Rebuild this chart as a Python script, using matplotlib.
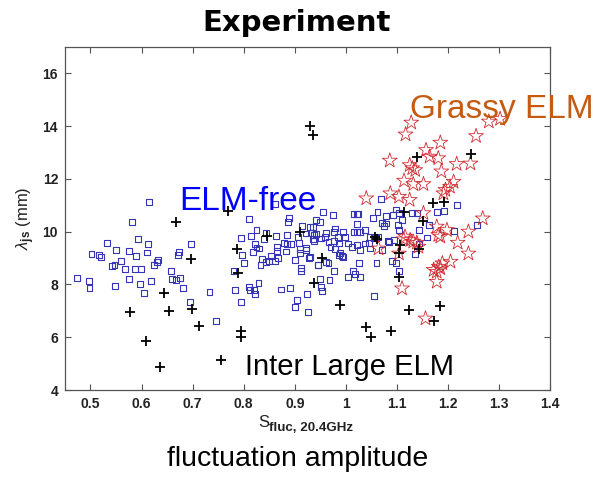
import matplotlib
matplotlib.use("Agg")
import matplotlib.pyplot as plt
import numpy as np

plt.rcParams["font.family"] = ["Liberation Sans", "DejaVu Sans"]
plt.rcParams["mathtext.fontset"] = "custom"
plt.rcParams["mathtext.rm"] = "Liberation Sans"
plt.rcParams["mathtext.bf"] = "Liberation Sans:bold"
plt.rcParams["mathtext.it"] = "Liberation Sans:italic"

# ELM-free discharges (open squares)
free_x = [0.473, 0.497, 0.498, 0.502, 0.517, 0.521, 0.533, 0.542, 0.547, 0.550, 0.548, 0.560,
          0.568, 0.576, 0.576, 0.582, 0.587, 0.589, 0.593, 0.597, 0.599, 0.605, 0.610, 0.612,
          0.615, 0.619, 0.625, 0.630, 0.632, 0.658, 0.659, 0.668, 0.672, 0.674, 0.675, 0.682,
          0.694, 0.696, 0.733, 0.745, 0.780, 0.783, 0.794, 0.795, 0.797, 0.801, 0.811, 0.811,
          0.812, 0.814, 0.818, 0.820, 0.822, 0.822, 0.825, 0.825, 0.829, 0.830, 0.833, 0.836,
          0.839, 0.844, 0.844, 0.849, 0.854, 0.861, 0.863, 0.865, 0.866, 0.868, 0.873, 0.879,
          0.882, 0.884, 0.885, 0.886, 0.888, 0.890, 0.893, 0.901, 0.901, 0.904, 0.906, 0.908,
          0.910, 0.911, 0.912, 0.912, 0.915, 0.922, 0.922, 0.921, 0.924, 0.926, 0.929, 0.934,
          0.936, 0.937, 0.941, 0.936, 0.941, 0.946, 0.862,
          0.955, 0.974, 0.950, 0.979, 0.977, 0.962, 0.994, 0.984, 0.999, 1.015, 1.022, 1.027,
          1.015, 1.021, 1.024, 1.021, 1.038, 1.047, 1.056, 1.060, 1.063, 1.053, 1.062, 1.068,
          1.070, 1.074, 1.079, 1.082, 1.085, 1.079, 1.092, 1.098, 1.104, 1.110, 1.103, 1.104,
          1.094, 1.091, 1.099, 1.104, 1.129, 1.139, 1.143, 1.136, 1.143, 1.159, 1.162, 1.178,
          1.193, 1.218, 1.212, 1.257, 0.930, 0.937, 0.951, 0.960, 0.966, 0.970, 0.976, 0.978,
          0.986, 0.989, 0.994, 1.005, 1.012, 1.022, 1.028, 1.038, 1.045, 1.048, 1.071, 0.927,
          0.946, 0.962, 0.966, 0.976, 0.986, 0.992, 0.950, 0.968, 0.952, 0.954, 1.005, 1.014,
          1.018, 1.028, 1.025, 1.060, 1.056]
free_y = [8.25, 8.14, 7.85, 9.16, 9.10, 9.05, 9.57, 8.71, 8.72, 9.30, 7.95, 8.89,
          8.58, 9.28, 8.19, 10.36, 8.58, 9.08, 9.72, 8.02, 8.57, 7.69, 9.21, 9.54,
          11.12, 8.14, 8.72, 8.86, 8.91, 8.51, 8.22, 8.17, 9.11, 9.23, 8.24, 7.86,
          7.35, 9.54, 7.72, 6.63, 8.51, 7.80, 9.77, 7.35, 9.10, 8.82, 10.47, 7.92,
          7.79, 9.83, 9.22, 7.79, 7.65, 9.54, 10.06, 9.40, 8.06, 9.36, 8.72, 8.95,
          9.73, 8.86, 9.96, 8.89, 9.09, 8.89, 9.84, 9.27, 9.42, 9.01, 7.81, 9.58,
          9.25, 9.54, 9.87, 10.37, 10.50, 7.87, 9.53, 8.92, 7.13, 7.42, 9.81, 9.58,
          9.33, 9.20, 8.52, 8.61, 10.21, 9.39, 9.30, 9.93, 7.64, 6.95, 9.05, 9.96,
          9.71, 9.66, 9.90, 10.16, 10.44, 8.72, 11.05,
          10.75, 10.63, 10.38, 10.12, 10.00, 9.96, 10.00, 9.81, 9.81, 10.00, 9.97, 9.97,
          10.67, 10.67, 10.67, 10.29, 10.06, 9.81, 9.77, 9.75, 9.81, 10.50, 10.75, 11.22,
          10.34, 10.21, 10.31, 9.66, 9.62, 10.59, 10.63, 10.84, 10.69, 10.44, 10.25, 10.06,
          9.68, 8.89, 8.82, 8.52, 10.69, 10.69, 10.06, 9.17, 9.55, 9.78, 10.25, 10.75,
          10.79, 11.00, 10.03, 10.25, 10.19, 9.87, 9.74, 9.81, 9.62, 9.43, 9.66, 9.33,
          9.55, 9.20, 9.05, 9.55, 9.43, 9.49, 9.30, 9.55, 9.58, 9.36, 9.30, 8.99,
          8.73, 8.86, 8.80, 8.52, 9.11, 9.08, 8.19, 8.17, 7.89, 7.76, 8.27, 8.51,
          8.39, 8.27, 8.82, 8.82, 7.57]

# Inter large-ELM periods (plus markers)
inter_x = [0.769, 0.668, 0.696, 0.643, 0.578, 0.653, 0.698, 0.713, 0.609, 0.637, 0.756, 0.786,
           0.788, 0.795, 0.795, 0.846, 0.911, 0.938, 0.929, 0.936, 1.113, 1.151, 1.058, 1.062,
           1.107, 1.105, 1.144, 0.953, 1.105, 0.988, 1.040, 1.049, 1.088, 1.123, 1.184, 1.173,
           1.140, 1.245, 1.170, 1.193]
inter_y = [10.78, 10.38, 8.96, 7.67, 6.95, 6.99, 7.08, 6.42, 5.87, 4.87, 5.12, 9.33,
           8.43, 6.25, 6.02, 9.84, 9.97, 8.06, 14.00, 13.65, 10.75, 10.41, 9.78, 9.71,
           9.49, 9.20, 9.33, 9.01, 8.27, 7.22, 6.37, 6.00, 6.23, 7.03, 7.18, 6.63,
           12.84, 12.96, 11.10, 11.14]

# Grassy-ELM discharges (open stars)
grassy_x = [1.128, 1.117, 1.185, 1.255, 1.280, 1.302, 1.157, 1.164, 1.181, 1.086, 1.125, 1.130,
            1.136, 1.217, 1.244, 1.187, 1.114, 1.132, 1.152, 1.211, 1.204, 1.195, 1.191, 1.087,
            1.104, 1.040, 1.125, 1.152, 1.268, 1.178, 1.198, 1.185, 1.181, 1.240, 1.219, 1.240,
            1.116, 1.126, 1.132, 1.142, 1.113, 1.139, 1.064, 1.104, 1.205, 1.189, 1.182, 1.172,
            1.178, 1.185, 1.178, 1.110, 1.156]
grassy_y = [14.13, 13.68, 13.37, 13.62, 14.17, 14.27, 13.09, 12.84, 12.78, 12.69, 12.52, 12.40,
            12.33, 12.56, 12.58, 12.28, 11.93, 11.80, 11.80, 11.89, 11.70, 11.58, 11.45, 11.45,
            11.32, 11.26, 11.20, 10.70, 10.50, 10.19, 10.06, 9.81, 9.87, 10.00, 9.58, 9.17,
            9.81, 9.68, 9.62, 9.43, 9.71, 9.58, 9.36, 9.17, 8.86, 8.80, 8.67, 8.55,
            8.48, 8.61, 8.10, 7.85, 6.71]

x_ticks = [0.5, 0.6, 0.7, 0.8, 0.9, 1.0, 1.1, 1.2, 1.3, 1.4]
x_tick_labels = ["0.5", "0.6", "0.7", "0.8", "0.9", "1", "1.1", "1.2", "1.3", "1.4"]
y_ticks = [4, 6, 8, 10, 12, 14, 16]

fig = plt.figure(figsize=(5.96, 4.78), dpi=100)
ax = fig.add_axes([0.109, 0.184, 0.814, 0.718])

ax.scatter(free_x, free_y, marker="s", s=18, facecolors="none",
           edgecolors="#3535b5", linewidths=0.8, zorder=2)
ax.scatter(grassy_x, grassy_y, marker="*", s=125, facecolors="none",
           edgecolors="#d02a30", linewidths=0.6, zorder=3)
ax.scatter(inter_x, inter_y, marker="+", s=45, color="black",
           linewidths=1.3, zorder=4)

ax.set_xlim(0.45, 1.4)
ax.set_ylim(4, 17)
ax.set_xticks(x_ticks)
ax.set_xticklabels(x_tick_labels)
ax.set_yticks(y_ticks)
ax.tick_params(direction="in", length=4, width=0.8, color="#555555",
               top=True, right=True, labelsize=10, pad=5)
for lab in ax.get_xticklabels() + ax.get_yticklabels():
    lab.set_fontweight("bold")
    lab.set_color("#222222")
for sp in ax.spines.values():
    sp.set_color("#555555")
    sp.set_linewidth(0.9)

# x-axis label: S with a bold subscript
fig.text(258 / 596, 1 - 427 / 478, "S", fontsize=12, color="#222222",
         ha="left", va="baseline")
fig.text(269 / 596, 1 - 431 / 478, "fluc, 20.4GHz", fontsize=9.6,
         fontweight="bold", color="#222222", ha="left", va="baseline")
ax.set_ylabel(r"$\lambda_{\mathbf{js}}$ (mm)", fontsize=12, labelpad=4,
              color="#222222")

ax.text(1.126, 14.30, "Grassy ELM", fontsize=24, color="#c55a11",
        ha="left", va="baseline", clip_on=False)
ax.text(0.674, 10.82, "ELM-free", fontsize=24, color="#0000ff",
        ha="left", va="baseline")
ax.text(0.803, 4.57, "Inter Large ELM", fontsize=21, color="black",
        ha="left", va="baseline")

fig.text(0.498, 0.935, "Experiment", fontsize=21, fontweight="bold",
         family="DejaVu Sans", ha="center", va="baseline")
fig.text(0.5, 0.025, "fluctuation amplitude", fontsize=20.5,
         ha="center", va="baseline")

fig.savefig("out.png", dpi=100)
